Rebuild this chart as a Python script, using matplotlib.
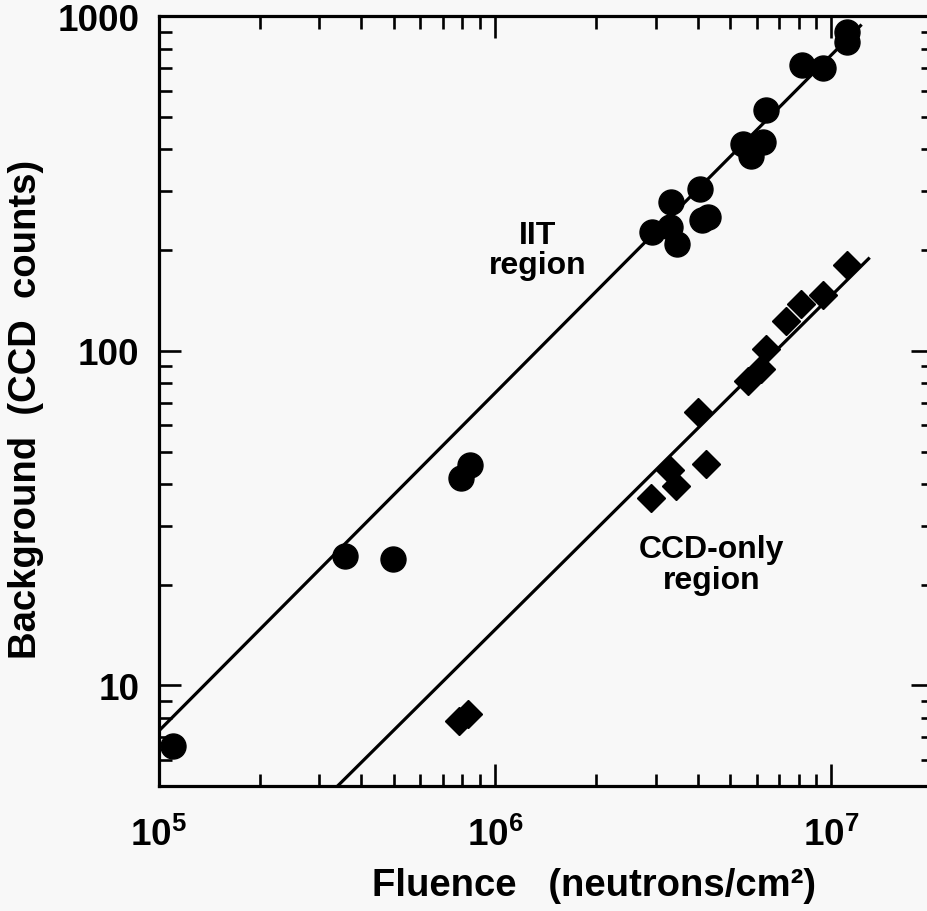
import matplotlib
matplotlib.use('Agg')
import matplotlib.pyplot as plt
from matplotlib.ticker import LogLocator, NullFormatter, FixedLocator

plt.rcParams['font.family'] = ['Liberation Sans', 'DejaVu Sans']
plt.rcParams['font.weight'] = 'bold'
plt.rcParams['mathtext.fontset'] = 'custom'
plt.rcParams['mathtext.rm'] = 'Liberation Sans:bold'
plt.rcParams['mathtext.bf'] = 'Liberation Sans:bold'
plt.rcParams['mathtext.it'] = 'Liberation Sans:bold'

# IIT region (circles)
iit_x = [1.10e5, 3.58e5, 4.97e5, 7.9e5, 8.4e5,
         2.93e6, 3.34e6, 3.31e6, 3.48e6, 4.07e6, 4.12e6, 4.30e6,
         5.47e6, 5.78e6, 6.28e6, 6.41e6, 8.2e6, 9.46e6, 1.11e7, 1.11e7]
iit_y = [6.6, 24.4, 23.9, 41.8, 45.7,
         226, 279, 234, 208, 305, 246, 251,
         415, 382, 421, 524, 714, 700, 896, 836]

# CCD-only region (diamonds)
ccd_x = [7.8e5, 8.3e5, 2.91e6, 3.32e6, 3.46e6, 4.25e6, 4.02e6,
         5.66e6, 6.19e6, 6.41e6, 7.35e6, 8.1e6, 9.46e6, 1.11e7]
ccd_y = [7.8, 8.2, 36.2, 43.9, 39.5, 46.0, 65.8,
         81.3, 88.3, 101, 123, 138, 147, 181]

# fit lines (end points)
iit_fit_x = [1.0e5, 1.23e7]
iit_fit_y = [7.3, 945]
ccd_fit_x = [3.3e5, 1.3e7]
ccd_fit_y = [4.85, 190]

x_ticks = [1e5, 1e6, 1e7]
x_labels = [r'$10^{5}$', r'$10^{6}$', r'$10^{7}$']
y_ticks = [10, 100, 1000]
y_labels = ['10', '100', '1000']

bg = '#f8f8f8'
fig = plt.figure(figsize=(9.28, 9.12), dpi=100, facecolor=bg)
ax = fig.add_axes([0.171, 0.137, 0.834, 0.844])
ax.set_facecolor(bg)
ax.set_xscale('log')
ax.set_yscale('log')
ax.set_xlim(1e5, 2e7)
ax.set_ylim(5, 1000)

ax.plot(iit_fit_x, iit_fit_y, color='black', lw=2.3, solid_capstyle='butt')
ax.plot(ccd_fit_x, ccd_fit_y, color='black', lw=2.3, solid_capstyle='butt')
ax.plot(iit_x, iit_y, 'o', color='black', ms=18, mec='black')
ax.plot(ccd_x, ccd_y, 'D', color='black', ms=14, mec='black')

ax.text(1.34e6, 200, 'IIT\nregion', ha='center', va='center',
        fontsize=23, fontweight='bold', linespacing=1.0)
ax.text(4.4e6, 23, 'CCD-only\nregion', ha='center', va='center',
        fontsize=23, fontweight='bold', linespacing=1.05)

ax.xaxis.set_major_locator(FixedLocator(x_ticks))
ax.set_xticklabels(x_labels)
ax.xaxis.set_minor_locator(LogLocator(base=10, subs=range(2, 10)))
ax.xaxis.set_minor_formatter(NullFormatter())
ax.yaxis.set_major_locator(FixedLocator(y_ticks))
ax.set_yticklabels(y_labels)
ax.yaxis.set_minor_locator(LogLocator(base=10, subs=range(2, 10)))
ax.yaxis.set_minor_formatter(NullFormatter())

ax.tick_params(which='both', direction='in', top=True, right=True, color='black')
ax.tick_params(which='major', length=16, width=1.9, labelsize=26.5, pad=14)
ax.tick_params(which='minor', length=9, width=1.9)
ax.tick_params(axis='x', which='major', pad=22)
for s in ax.spines.values():
    s.set_linewidth(2.3)
ax.spines['right'].set_visible(False)

ax.set_xlabel('Fluence   (neutrons/cm\u00b2)', fontsize=27.5, fontweight='bold')
ax.set_ylabel('Background  (CCD  counts)', fontsize=27.5, fontweight='bold')
ax.xaxis.set_label_coords(0.563, -0.105)
ax.yaxis.set_label_coords(-0.148, 0.49)

fig.savefig('out.png', dpi=100, facecolor=bg)
